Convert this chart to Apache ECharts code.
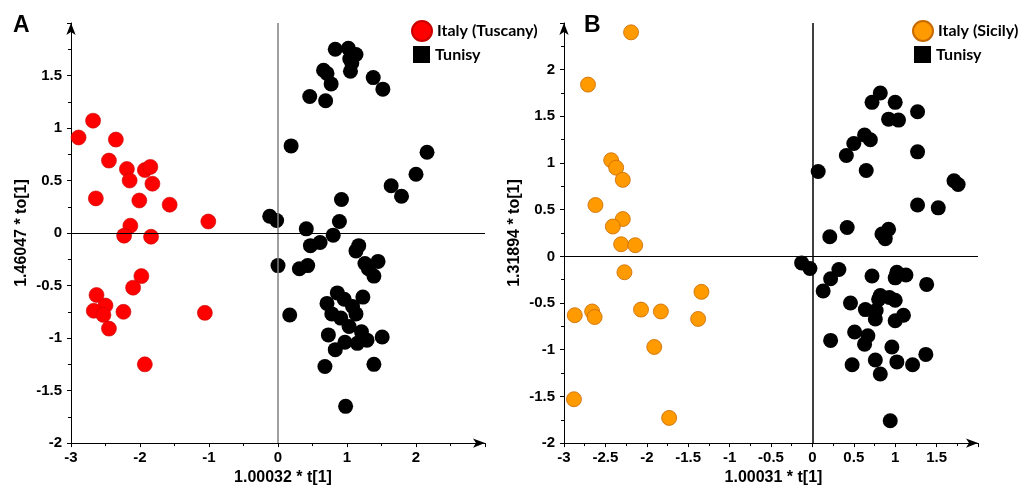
<!DOCTYPE html>
<html lang="en">
<head>
    <meta charset="UTF-8">
    <script src="https://cdn.jsdelivr.net/npm/echarts@6/dist/echarts.min.js"></script>
    <style>
        *{
            margin: 0;
            padding: 0;
        }
        #chart {
            width: 1021px;
            height: 491px;
            background: #fff;
        }
    </style>
</head>
<body>
<div id="chart"></div>
<script>
    // panel A: Italy (Tuscany) vs Tunisy
    var tuscany = [
        [-2.89, 0.91], [-2.68, 1.07], [-2.35, 0.89], [-2.45, 0.69], [-2.19, 0.61],
        [-1.93, 0.60], [-1.85, 0.63], [-2.15, 0.50], [-1.82, 0.47], [-2.64, 0.33],
        [-2.01, 0.31], [-1.57, 0.27], [-1.01, 0.11], [-2.14, 0.07], [-2.23, -0.025],
        [-1.84, -0.035], [-1.98, -0.41], [-2.10, -0.52], [-2.63, -0.59], [-2.50, -0.69],
        [-2.67, -0.74], [-2.53, -0.78], [-2.24, -0.75], [-2.45, -0.91], [-1.06, -0.76],
        [-1.93, -1.25]
    ];
    var tunisyA = [
        [0.83, 1.75], [1.02, 1.76], [1.13, 1.70], [1.04, 1.66], [1.07, 1.62],
        [1.05, 1.54], [0.66, 1.55], [0.71, 1.52], [0.77, 1.42], [1.38, 1.48],
        [1.52, 1.37], [0.46, 1.30], [0.69, 1.26], [0.19, 0.83], [2.16, 0.77],
        [2.00, 0.56], [1.64, 0.45], [1.79, 0.35], [0.92, 0.32], [-0.12, 0.16],
        [-0.02, 0.12], [0.89, 0.11], [0.41, 0.04], [0.80, -0.02], [0.47, -0.12],
        [0.61, -0.09], [1.17, -0.12], [1.13, -0.17], [0.00, -0.31], [0.31, -0.34],
        [0.43, -0.31], [1.26, -0.29], [1.31, -0.34], [1.45, -0.27], [1.39, -0.41],
        [0.86, -0.57], [0.96, -0.63], [0.71, -0.67], [1.23, -0.61], [1.08, -0.70],
        [1.13, -0.77], [0.78, -0.77], [0.91, -0.81], [0.17, -0.78], [1.03, -0.89],
        [0.73, -0.97], [1.21, -0.94], [1.51, -0.99], [1.29, -1.02], [1.15, -1.05],
        [0.97, -1.04], [0.83, -1.11], [0.68, -1.27], [1.39, -1.25], [0.98, -1.65]
    ];
    // panel B: Italy (Sicily) vs Tunisy
    var sicily = [
        [-2.19, 2.40], [-2.71, 1.84], [-2.43, 1.03], [-2.37, 0.95], [-2.29, 0.82],
        [-2.62, 0.55], [-2.29, 0.40], [-2.41, 0.32], [-2.31, 0.13], [-2.14, 0.12],
        [-2.27, -0.17], [-1.34, -0.38], [-2.87, -0.63], [-2.66, -0.59], [-2.63, -0.65],
        [-2.07, -0.57], [-1.83, -0.59], [-1.38, -0.67], [-1.91, -0.97], [-2.88, -1.53],
        [-1.73, -1.73]
    ];
    var tunisyB = [
        [0.82, 1.75], [0.72, 1.65], [1.00, 1.65], [1.27, 1.55], [0.92, 1.47],
        [1.04, 1.46], [0.63, 1.30], [0.70, 1.25], [0.50, 1.21], [1.27, 1.12],
        [0.41, 1.08], [0.07, 0.91], [0.65, 0.92], [1.71, 0.81], [1.76, 0.77],
        [1.27, 0.55], [1.52, 0.52], [0.42, 0.31], [0.21, 0.21], [0.84, 0.24],
        [0.92, 0.29], [0.88, 0.19], [-0.13, -0.07], [-0.03, -0.13], [0.32, -0.14],
        [0.22, -0.24], [0.13, -0.37], [0.72, -0.21], [1.02, -0.17], [1.13, -0.20],
        [1.00, -0.23], [1.38, -0.30], [0.82, -0.42], [0.80, -0.46], [0.93, -0.44],
        [1.00, -0.47], [0.46, -0.50], [0.64, -0.57], [0.77, -0.58], [0.76, -0.67],
        [1.10, -0.63], [1.00, -0.69], [0.51, -0.81], [0.67, -0.85], [0.63, -0.94],
        [0.22, -0.90], [0.96, -0.97], [1.37, -1.05], [0.76, -1.11], [1.02, -1.13],
        [0.48, -1.16], [1.21, -1.16], [0.82, -1.26], [0.94, -1.76]
    ];

    var chart = echarts.init(document.getElementById('chart'));

    var labelFont = {
        color: '#000',
        fontSize: 15,
        fontWeight: 'bold',
        fontFamily: 'Liberation Sans, Arial, sans-serif'
    };

    function axis(gridIndex, min, max, interval, name, isX, nameGap, namePad) {
        return {
            type: 'value',
            gridIndex: gridIndex,
            min: min,
            max: max,
            interval: interval,
            name: name,
            nameLocation: 'middle',
            nameGap: nameGap,
            nameTextStyle: {
                color: '#000',
                fontSize: 16,
                fontWeight: 'bold',
                fontFamily: 'Liberation Sans, Arial, sans-serif',
                padding: namePad || 0
            },
            axisLine: {
                show: true,
                onZero: false,
                symbol: ['none', 'arrow'],
                symbolSize: [7, 12],
                lineStyle: {color: '#000', width: 1}
            },
            axisTick: {show: true, length: 4, lineStyle: {color: '#000'}},
            minorTick: {show: true, splitNumber: 2, length: 3, lineStyle: {color: '#000'}},
            axisLabel: Object.assign({
                margin: isX ? 7 : 9,
                showMaxLabel: false
            }, labelFont),
            splitLine: {show: false}
        };
    }

    function zeroLines(vColor) {
        return {
            silent: true,
            symbol: 'none',
            label: {show: false},
            animation: false,
            data: [
                {xAxis: 0, lineStyle: {color: vColor, width: 1.5, type: 'solid'}},
                {yAxis: 0, lineStyle: {color: '#000', width: 1, type: 'solid'}}
            ]
        };
    }

    var legendText = {
        color: '#000',
        fontSize: 16,
        fontWeight: 'bold',
        fontFamily: 'Lato, sans-serif'
    };

    var option = {
        animation: false,
        title: [
            {text: 'A', left: 8, top: 9, textStyle: {fontSize: 23, fontWeight: 'bold', color: '#000', fontFamily: 'Liberation Sans, Arial'}},
            {text: 'B', left: 579, top: 9, textStyle: {fontSize: 23, fontWeight: 'bold', color: '#000', fontFamily: 'Liberation Sans, Arial'}}
        ],
        legend: [
            {left: 406, top: 15, itemWidth: 20, itemHeight: 20, textStyle: legendText,
                data: [{name: 'Italy (Tuscany)', icon: 'circle'}]},
            {left: 408, top: 41, itemWidth: 17, itemHeight: 17, textStyle: legendText,
                data: [{name: 'Tunisy', icon: 'rect'}]},
            {left: 907, top: 15, itemWidth: 20, itemHeight: 20, textStyle: legendText,
                data: [{name: 'Italy (Sicily)', icon: 'circle'}]},
            {left: 909, top: 41, itemWidth: 17, itemHeight: 17, textStyle: legendText,
                data: [{name: 'Tunisy', icon: 'rect'}]}
        ],
        grid: [
            {left: 71, top: 23, width: 414, height: 424},
            {left: 564, top: 23, width: 414, height: 424}
        ],
        xAxis: [
            axis(0, -3, 3, 1, '1.00032 * t[1]', true, 22, [0, 0, 0, 10]),
            axis(1, -3, 2, 0.5, '1.00031 * t[1]', true, 22, [0, 0, 0, 5])
        ],
        yAxis: [
            axis(0, -2, 2, 0.5, '1.46047 * to[1]', false, 41),
            axis(1, -2, 2.5, 0.5, '1.31894 * to[1]', false, 41)
        ],
        series: [
            {
                name: 'Italy (Tuscany)', type: 'scatter', xAxisIndex: 0, yAxisIndex: 0,
                symbolSize: 15, data: tuscany,
                itemStyle: {color: '#FF0000', borderColor: '#C80000', borderWidth: 0.6, opacity: 1},
                markLine: zeroLines('#808080')
            },
            {
                name: 'Tunisy', type: 'scatter', xAxisIndex: 0, yAxisIndex: 0,
                symbolSize: 15, data: tunisyA,
                itemStyle: {color: '#000', opacity: 1}
            },
            {
                name: 'Italy (Sicily)', type: 'scatter', xAxisIndex: 1, yAxisIndex: 1,
                symbolSize: 15, data: sicily,
                itemStyle: {color: '#FF9A00', borderColor: '#C86A00', borderWidth: 0.8, opacity: 1},
                markLine: zeroLines('#000')
            },
            {
                name: 'Tunisy', type: 'scatter', xAxisIndex: 1, yAxisIndex: 1,
                symbolSize: 15, data: tunisyB,
                itemStyle: {color: '#000', opacity: 1}
            }
        ]
    };

    chart.setOption(option);
</script>
</body>
</html>
